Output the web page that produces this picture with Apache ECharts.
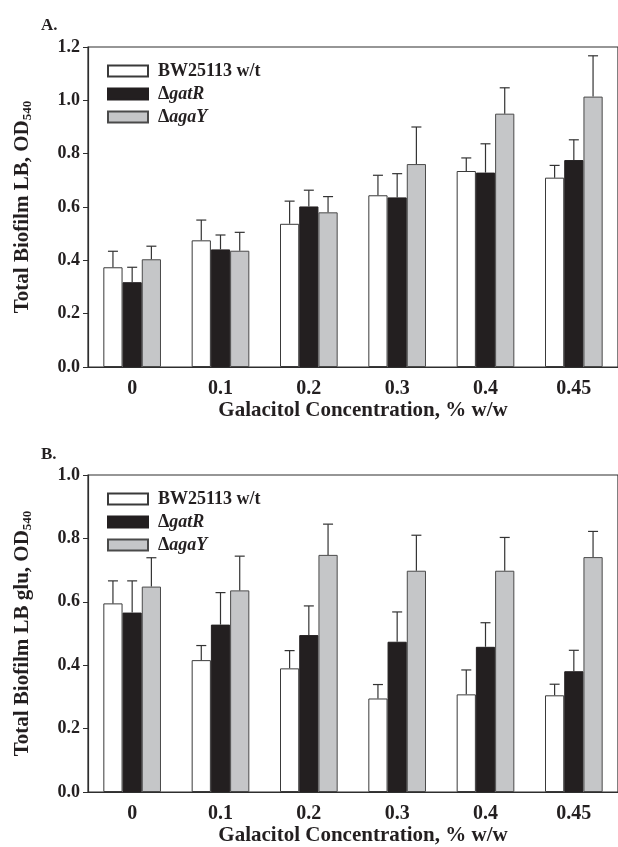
<!DOCTYPE html>
<html>
<head>
<meta charset="utf-8">
<script src="https://cdn.jsdelivr.net/npm/echarts@6/dist/echarts.min.js"></script>
<style>
html,body{margin:0;padding:0;background:#fff;}
#main{width:618px;height:847px;}
</style>
</head>
<body>
<div id="main"></div>
<script>
// ---- data ----
var categories = ['0', '0.1', '0.2', '0.3', '0.4', '0.45'];
var seriesNames = ['BW25113 w/t', '\u0394gatR', '\u0394agaY'];

// Panel A: Total Biofilm LB
var aWT   = [0.374, 0.475, 0.537, 0.644, 0.735, 0.710];
var aGatR = [0.318, 0.441, 0.602, 0.636, 0.729, 0.776];
var aAgaY = [0.404, 0.436, 0.580, 0.761, 0.950, 1.014];
var aWTErr   = [0.060, 0.076, 0.085, 0.075, 0.049, 0.046];
var aGatRErr = [0.056, 0.054, 0.061, 0.089, 0.108, 0.076];
var aAgaYErr = [0.049, 0.069, 0.059, 0.139, 0.097, 0.153];

// Panel B: Total Biofilm LB glu
var bWT   = [0.595, 0.416, 0.390, 0.295, 0.308, 0.305];
var bGatR = [0.566, 0.528, 0.495, 0.474, 0.458, 0.381];
var bAgaY = [0.648, 0.636, 0.748, 0.698, 0.698, 0.741];
var bWTErr   = [0.071, 0.046, 0.056, 0.044, 0.077, 0.035];
var bGatRErr = [0.100, 0.101, 0.092, 0.094, 0.076, 0.066];
var bAgaYErr = [0.091, 0.108, 0.097, 0.112, 0.105, 0.081];

var yTicksA = {min: 0, max: 1.2, interval: 0.2};
var yTicksB = {min: 0, max: 1.0, interval: 0.2};

// ---- styling ----
var FONT = "'Liberation Serif', 'Times New Roman', serif";
var INK = '#231f20';
var AXIS = '#2e2e2e';
var BAR_FRAC = 0.2176;
var barStyles = [
  {color: '#ffffff', borderColor: '#3a3a3a', borderWidth: 1},
  {color: '#231f20', borderColor: '#231f20', borderWidth: 1},
  {color: '#c5c6c8', borderColor: '#4a4a4a', borderWidth: 1}
];

function errSeries(k, vals, errs, gi) {
  return {
    type: 'custom',
    xAxisIndex: gi, yAxisIndex: gi,
    silent: true,
    z: 3,
    data: vals.map(function (v, i) { return [i, v, v + errs[i]]; }),
    renderItem: function (params, api) {
      var base = api.coord([api.value(0), api.value(1)]);
      var top = api.coord([api.value(0), api.value(2)]);
      var bw = api.size([1, 0])[0] * BAR_FRAC;
      var x = base[0] + (k - 1) * bw;
      var cap = 5;
      var st = {stroke: '#333', lineWidth: 1.2};
      return {
        type: 'group',
        children: [
          {type: 'line', shape: {x1: x, y1: base[1], x2: x, y2: top[1]}, style: st},
          {type: 'line', shape: {x1: x - cap, y1: top[1], x2: x + cap, y2: top[1]}, style: st}
        ]
      };
    }
  };
}

function barSeries(k, vals, gi) {
  return {
    type: 'bar',
    name: seriesNames[k],
    xAxisIndex: gi, yAxisIndex: gi,
    data: vals,
    barWidth: (BAR_FRAC * 100) + '%',
    barGap: '0%',
    itemStyle: barStyles[k],
    emphasis: {disabled: true}
  };
}

function xAxisCfg(gi) {
  return {
    type: 'category', gridIndex: gi, data: categories,
    name: 'Galacitol Concentration, % w/w',
    nameLocation: 'middle', nameGap: 33,
    nameTextStyle: {fontFamily: FONT, fontWeight: 'bold', fontSize: 21, color: INK, padding: [0, 0, 0, 20]},
    axisLine: {lineStyle: {color: AXIS, width: 1.2}},
    axisTick: {alignWithLabel: true, length: 5, lineStyle: {color: AXIS}},
    axisLabel: {fontFamily: FONT, fontWeight: 'bold', fontSize: 20, color: INK, margin: 12},
    splitLine: {show: false}
  };
}

function yAxisCfg(gi, ticks, nameRich) {
  return {
    type: 'value', gridIndex: gi, min: ticks.min, max: ticks.max, interval: ticks.interval,
    name: nameRich, nameLocation: 'middle', nameGap: 54,
    nameTextStyle: {
      fontFamily: FONT, fontWeight: 'bold', fontSize: 21, color: INK,
      rich: {
        m: {fontFamily: FONT, fontWeight: 'bold', fontSize: 21, color: INK, lineHeight: 22, verticalAlign: 'middle'},
        s: {fontFamily: FONT, fontWeight: 'bold', fontSize: 13, color: INK, lineHeight: 13, verticalAlign: 'bottom'}
      }
    },
    axisLine: {show: true, lineStyle: {color: AXIS, width: 1.2}},
    axisTick: {show: true, length: 5, lineStyle: {color: AXIS}},
    axisLabel: {fontFamily: FONT, fontWeight: 'bold', fontSize: 18, color: INK, margin: 8,
      formatter: function (v) { return v.toFixed(1); }},
    splitLine: {show: false}
  };
}

function legendCfg(gi, top) {
  return {
    orient: 'vertical', left: 107, top: top, padding: 0,
    itemWidth: 40, itemHeight: 11, itemGap: 5,
    icon: 'rect',
    data: seriesNames,
    selectedMode: false,
    textStyle: {
      fontFamily: FONT, fontWeight: 'bold', fontSize: 18, color: INK, lineHeight: 18,
      rich: {
        n: {fontFamily: FONT, fontWeight: 'bold', fontSize: 18, color: INK, lineHeight: 18, padding: [0, 0, 0, 5]},
        i: {fontFamily: FONT, fontWeight: 'bold', fontStyle: 'italic', fontSize: 18, color: INK, lineHeight: 18}
      }
    },
    formatter: function (name) {
      if (name.charAt(0) === '\u0394') return '{n|\u0394}{i|' + name.slice(1) + '}';
      return '{n|' + name + '}';
    }
  };
}

var chart = echarts.init(document.getElementById('main'), null, {renderer: 'canvas'});
var option = {
  backgroundColor: '#ffffff',
  animation: false,
  title: [
    {text: 'A.', left: 36, top: 12, textStyle: {fontFamily: FONT, fontWeight: 'bold', fontSize: 17, color: INK}},
    {text: 'B.', left: 36, top: 441, textStyle: {fontFamily: FONT, fontWeight: 'bold', fontSize: 17, color: INK}}
  ],
  grid: [
    {left: 88, right: -2, top: 47, height: 320, show: true, borderColor: AXIS, borderWidth: 1.2, backgroundColor: 'transparent'},
    {left: 88, right: -2, top: 475, height: 319, show: true, borderColor: AXIS, borderWidth: 1.2, backgroundColor: 'transparent'}
  ],
  xAxis: [xAxisCfg(0), xAxisCfg(1)],
  yAxis: [
    yAxisCfg(0, yTicksA, '{m|Total Biofilm LB, OD}{s|540}'),
    yAxisCfg(1, yTicksB, '{m|Total Biofilm LB glu, OD}{s|540}')
  ],
  legend: [legendCfg(0, 62), legendCfg(1, 490)],
  series: [
    barSeries(0, aWT, 0), barSeries(1, aGatR, 0), barSeries(2, aAgaY, 0),
    errSeries(0, aWT, aWTErr, 0), errSeries(1, aGatR, aGatRErr, 0), errSeries(2, aAgaY, aAgaYErr, 0),
    barSeries(0, bWT, 1), barSeries(1, bGatR, 1), barSeries(2, bAgaY, 1),
    errSeries(0, bWT, bWTErr, 1), errSeries(1, bGatR, bGatRErr, 1), errSeries(2, bAgaY, bAgaYErr, 1)
  ]
};
chart.setOption(option);
</script>
</body>
</html>
